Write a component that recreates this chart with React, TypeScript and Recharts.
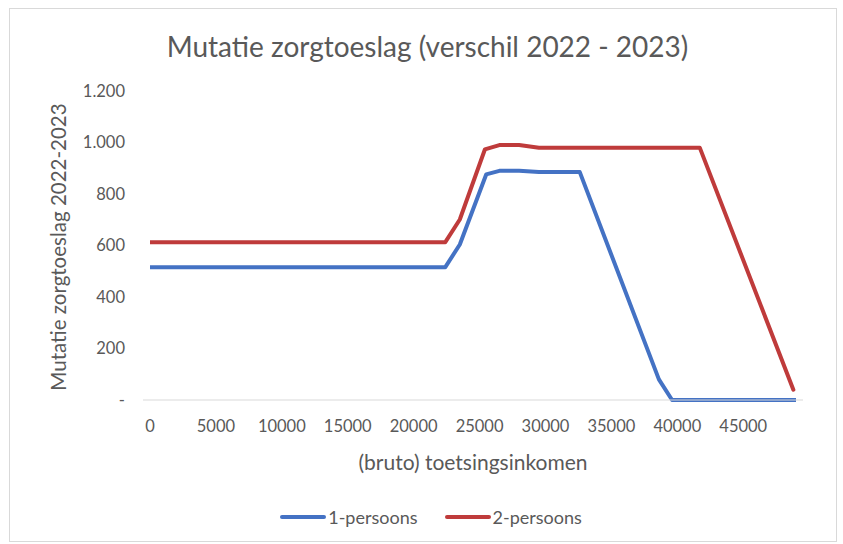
import React from "react";
import { LineChart, Line, XAxis, YAxis, Legend } from "recharts";

const incomes1 = [0, 22400, 23500, 25500, 26500, 28000, 29500, 32600, 38600, 39600, 49000];
const values1 = [516, 516, 604, 876, 890, 890, 885, 885, 80, 0, 0];
const incomes2 = [0, 22400, 23500, 25400, 26500, 28000, 29500, 41700, 48800];
const values2 = [613, 613, 701, 973, 990, 990, 980, 980, 40];
const xTicks = [0, 5000, 10000, 15000, 20000, 25000, 30000, 35000, 40000, 45000];
const yTicks = [0, 200, 400, 600, 800, 1000, 1200];

const series1 = incomes1.map((x, i) => ({ x, v: values1[i] }));
const series2 = incomes2.map((x, i) => ({ x, v: values2[i] }));

const FONT = "Lato, 'Open Sans', sans-serif";
const TEXT = "#595959";
const BLUE = "#4472C4";
const RED = "#BF3B3B";

const fmtY = (v: number) => {
  if (v === 0) return "-";
  return v.toLocaleString("de-DE");
};

const LegendContent = (props: any) => {
  const payload = props.payload || [];
  return (
    <div style={{ display: "flex", justifyContent: "center", alignItems: "center", fontFamily: FONT, fontSize: 18, color: TEXT, lineHeight: "22px", paddingLeft: 18 }}>
      {payload.map((p: any, i: number) => (
        <div key={i} style={{ display: "flex", alignItems: "center", marginLeft: i === 0 ? 0 : 26 }}>
          <svg width={48} height={8} style={{ display: "block" }}>
            <line x1={3} y1={4} x2={45} y2={4} stroke={p.color} strokeWidth={4} strokeLinecap="round" />
          </svg>
          <span style={{ marginLeft: 1 }}>{p.value}</span>
        </div>
      ))}
    </div>
  );
};

export default function App() {
  return (
    <div style={{ position: "absolute", left: 0, top: 0, width: 843, height: 544, background: "#fff", overflow: "hidden" }}>
      <div style={{ position: "absolute", left: 9, top: 8, width: 828, height: 534, border: "1px solid #d9d9d9", boxSizing: "border-box" }} />
      <div style={{ position: "absolute", left: 0, top: 29, width: 855, textAlign: "center", fontFamily: FONT, fontSize: 28, color: TEXT, lineHeight: "34px" }}>
        Mutatie zorgtoeslag (verschil 2022 - 2023)
      </div>
      <div style={{ position: "absolute", left: 143, top: 449, width: 660, textAlign: "center", fontFamily: FONT, fontSize: 21, color: TEXT, lineHeight: "26px" }}>
        (bruto) toetsingsinkomen
      </div>
      <div style={{ position: "absolute", left: 58, top: 247, width: 0, height: 0 }}>
        <div style={{ position: "absolute", left: -200, top: -13, width: 400, textAlign: "center", transform: "rotate(-90deg)", fontFamily: FONT, fontSize: 20.5, color: TEXT, lineHeight: "26px", whiteSpace: "nowrap" }}>
          Mutatie zorgtoeslag 2022-2023
        </div>
      </div>
      <div style={{ position: "absolute", left: 0, top: 0 }}>
        <LineChart width={843} height={544} margin={{ top: 91, right: 40, bottom: 92, left: 0 }}>
          <XAxis
            type="number"
            dataKey="x"
            domain={[0, 49000]}
            ticks={xTicks}
            allowDataOverflow
            padding={{ left: 7, right: 7 }}
            axisLine={{ stroke: "#d9d9d9", strokeWidth: 1 }}
            tickLine={false}
            tickMargin={14}
            tick={{ fill: TEXT, fontSize: 16.5, fontFamily: FONT }}
            interval={0}
          />
          <YAxis
            type="number"
            domain={[0, 1200]}
            ticks={yTicks}
            width={143}
            axisLine={false}
            tickLine={false}
            tickMargin={12}
            tickFormatter={fmtY}
            tick={{ fill: TEXT, fontSize: 16.5, fontFamily: FONT }}
            interval={0}
          />
          <Legend
            verticalAlign="bottom"
            align="center"
            content={LegendContent}
            wrapperStyle={{ position: "absolute", left: 0, width: 843, top: 506, bottom: "auto" }}
          />
          <Line
            data={series1}
            dataKey="v"
            name="1-persoons"
            type="linear"
            stroke={BLUE}
            strokeWidth={4}
            strokeLinecap="round"
            strokeLinejoin="round"
            dot={false}
            activeDot={false}
            isAnimationActive={false}
          />
          <Line
            data={series2}
            dataKey="v"
            name="2-persoons"
            type="linear"
            stroke={RED}
            strokeWidth={4}
            strokeLinecap="round"
            strokeLinejoin="round"
            dot={false}
            activeDot={false}
            isAnimationActive={false}
          />
        </LineChart>
      </div>
    </div>
  );
}
